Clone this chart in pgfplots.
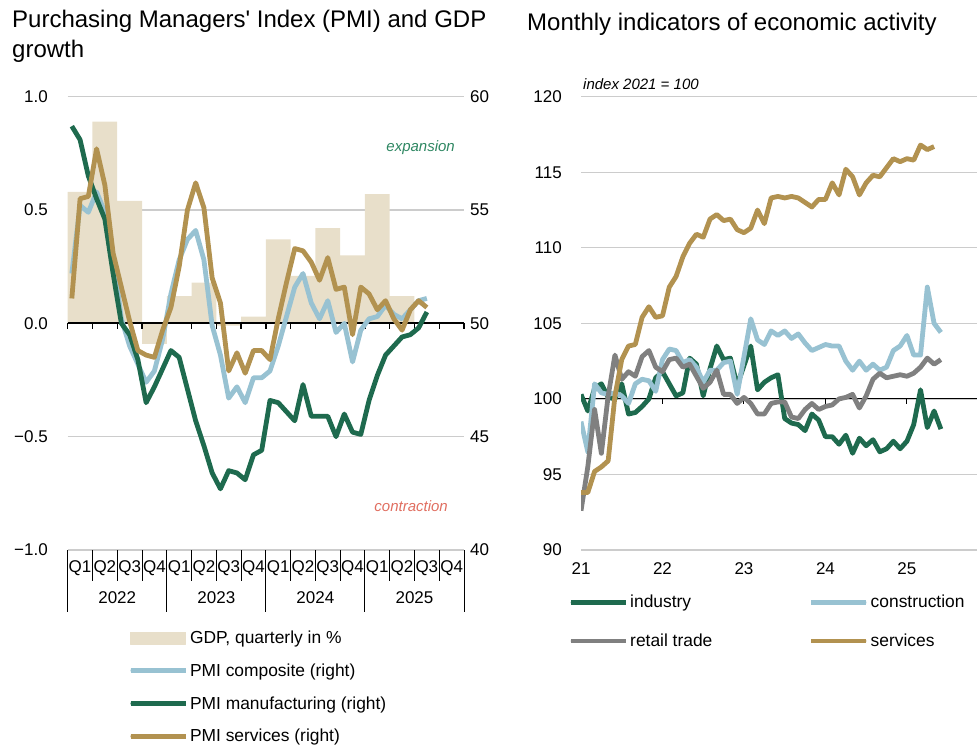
\documentclass[border=0pt]{standalone}
\usepackage{fontspec}
\setmainfont{Liberation Sans}
\usepackage{pgfplots}
\pgfplotsset{compat=1.18}
\usepackage{pgfplotstable}

\definecolor{gdpc}{RGB}{232,223,202}
\definecolor{compc}{RGB}{152,194,210}
\definecolor{manc}{RGB}{30,106,78}
\definecolor{serc}{RGB}{178,146,80}
\definecolor{retc}{RGB}{128,128,128}
\definecolor{gridc}{RGB}{204,204,204}
\definecolor{expc}{RGB}{46,135,98}
\definecolor{conc}{RGB}{224,110,96}

\newcommand\fs{\fontsize{17bp}{20bp}\selectfont}
\newcommand\fleg{\fontsize{17.4bp}{20bp}\selectfont}
\newcommand\ftitle{\fontsize{24bp}{30bp}\selectfont}
\newcommand\fital{\fontsize{15bp}{18bp}\selectfont\itshape}

\pgfplotstableread{
i comp man ser
0 52.2 58.7 51.1
1 55.2 58.1 55.5
2 54.9 56.5 55.6
3 55.8 55.5 57.7
4 54.9 54.6 56.1
5 53.0 52.2 53.1
6 50.2 50.0 51.6
7 49.0 49.5 50.1
8 48.2 48.4 48.8
9 47.4 46.5 48.6
10 47.9 47.2 48.5
11 49.3 48.0 49.7
12 51.3 48.8 50.7
13 52.8 48.5 52.5
14 53.7 47.1 55.0
15 54.1 45.7 56.2
16 52.8 44.6 55.1
17 49.9 43.4 52.0
18 48.6 42.7 50.9
19 46.7 43.5 47.9
20 47.2 43.4 48.7
21 46.5 43.1 47.8
22 47.6 44.2 48.8
23 47.6 44.4 48.8
24 47.9 46.6 48.4
25 49.0 46.5 50.2
26 50.3 46.1 51.8
27 51.6 45.7 53.3
28 52.2 47.3 53.2
29 50.9 45.9 52.7
30 50.2 45.9 51.9
31 51.0 45.9 52.9
32 49.6 45.0 51.5
33 50.0 46.0 51.6
34 48.3 45.2 49.5
35 49.7 45.1 51.6
36 50.2 46.6 51.3
37 50.3 47.7 50.6
38 50.8 48.6 51.0
39 50.4 49.0 50.2
40 50.2 49.4 49.7
41 50.6 49.5 50.6
42 51.0 49.8 51.0
43 51.1 50.5 50.7
}\leftdata

\pgfplotstableread{
m ind con ret ser
0 100.3 98.5 92.6 93.8
1 99.2 96.5 95.5 93.8
2 100.7 101.0 99.3 95.2
3 101.0 100.4 96.4 95.5
4 100.1 100.3 100.2 95.9
5 100.0 100.4 102.9 100.2
6 101.0 100.2 101.3 102.6
7 99.0 99.7 101.8 103.5
8 99.1 101.0 101.5 103.6
9 99.5 101.3 102.8 105.4
10 100.0 101.2 103.2 106.1
11 101.4 100.5 102.1 105.4
12 101.8 102.6 101.8 105.5
13 101.0 103.3 102.6 107.4
14 100.2 103.2 102.7 108.1
15 100.4 102.4 102.1 109.4
16 102.7 102.6 102.3 110.3
17 102.3 102.1 101.5 110.9
18 100.2 101.1 100.7 110.7
19 102.0 101.9 101.1 111.9
20 103.5 101.9 101.9 112.2
21 102.6 102.4 100.3 111.8
22 102.7 102.5 100.3 111.9
23 100.9 100.3 99.7 111.2
24 102.2 102.8 100.1 111.0
25 103.5 105.3 99.7 111.3
26 100.6 103.9 99.0 112.5
27 101.1 103.6 99.0 111.6
28 101.4 104.5 99.7 113.3
29 101.6 104.2 99.8 113.4
30 98.7 104.5 99.8 113.3
31 98.4 104.0 98.8 113.4
32 98.3 104.3 98.7 113.3
33 97.9 103.7 99.3 113.0
34 99.0 103.2 99.7 112.7
35 98.6 103.4 99.3 113.2
36 97.5 103.6 99.5 113.2
37 97.5 103.5 99.6 114.3
38 97.0 103.5 100.0 113.5
39 97.6 102.5 100.1 115.2
40 96.4 101.9 100.3 114.7
41 97.4 102.5 99.4 113.5
42 96.9 101.9 100.2 114.3
43 97.3 102.3 101.3 114.8
44 96.5 101.9 101.7 114.7
45 96.7 102.1 101.4 115.3
46 97.2 103.2 101.5 115.9
47 96.7 103.5 101.6 115.7
48 97.2 104.2 101.5 115.9
49 98.3 102.9 101.7 115.8
50 100.6 102.9 102.1 116.8
51 98.1 107.4 102.7 116.5
52 99.2 105.0 102.3 116.7
53 98.0 104.4 102.6 nan
}\rightdata

\begin{document}
\begin{tikzpicture}[font=\fs]
\useasboundingbox (0,0) rectangle (977bp,-745bp);

% titles
\node[anchor=base west, inner sep=0pt, font=\ftitle] at (12bp,-27.5bp) {Purchasing Managers\textquotesingle\ Index (PMI) and GDP};
\node[anchor=base west, inner sep=0pt, font=\ftitle] at (12bp,-57.5bp) {growth};
\node[anchor=base west, inner sep=0pt, font=\ftitle] at (527bp,-30bp) {Monthly indicators of economic activity};

% ---------- left: GDP bars ----------
\begin{axis}[
  at={(67.7bp,-550bp)}, anchor=south west, scale only axis,
  width=396.3bp, height=453.3bp,
  xmin=0, xmax=48, ymin=-1, ymax=1,
  clip=false,
  axis x line*=bottom, axis y line*=left, axis line style={draw=none},
  tick style={draw=none}, major tick length=0pt,
  ytick={-1,-0.5,0,0.5,1}, yticklabels={−1.0,−0.5,0.0,0.5,1.0},
  ymajorgrids, grid style={gridc, line width=1.3bp},
  xtick={1.5,4.5,...,46.5},
  xticklabels={Q1,Q2,Q3,Q4,Q1,Q2,Q3,Q4,Q1,Q2,Q3,Q4,Q1,Q2,Q3,Q4},
  tick label style={font=\fs},
  xticklabel style={anchor=base, inner sep=0pt, yshift=-22.8bp},
  yticklabel style={anchor=east, inner sep=0pt, xshift=-19.7bp},
]
\addplot[ybar, bar width=24.77bp, fill=gdpc, draw=none] coordinates {
 (1.5,0.58) (4.5,0.89) (7.5,0.54) (10.5,-0.09)
 (13.5,0.12) (16.5,0.18) (19.5,-0.01) (22.5,0.03)
 (25.5,0.37) (28.5,0.21) (31.5,0.42) (34.5,0.30)
 (37.5,0.57) (40.5,0.12)};
\draw[black, line width=2bp] (axis cs:0,0) -- (axis cs:48,0);
\pgfplotsinvokeforeach{0,3,6,9,12,15,18,21,24,27,30,33,36,39,42,45,48}{
  \draw[black, line width=1.3bp] (axis cs:#1,0) -- (axis cs:#1,-0.0251);
  \draw[black, line width=0.9bp] (axis cs:#1,-1) -- (axis cs:#1,-1.1368);
}
\pgfplotsinvokeforeach{0,12,24,36,48}{
  \draw[black, line width=0.9bp] (axis cs:#1,-1) -- (axis cs:#1,-1.2735);
}
\end{axis}

% ---------- left: PMI lines (right scale) ----------
\begin{axis}[
  at={(67.7bp,-550bp)}, anchor=south west, scale only axis,
  width=396.3bp, height=453.3bp,
  xmin=0, xmax=48, ymin=40, ymax=60,
  axis x line*=bottom, axis y line*=right, axis line style={draw=none},
  tick style={draw=none}, major tick length=0pt,
  ytick={40,45,50,55,60}, yticklabels={40,45,50,55,60},
  xtick={6,18,30,42}, xticklabels={2022,2023,2024,2025},
  tick label style={font=\fs},
  xticklabel style={anchor=base, inner sep=0pt, yshift=-53.8bp},
  yticklabel style={anchor=west, inner sep=0pt, xshift=6bp},
  legend style={at={(axis description cs:0.1527,-0.1787)}, anchor=north west,
    draw=none, fill=none, inner sep=0pt, outer sep=0pt, row sep=18.6bp,
    font=\fleg, nodes={inner sep=0pt},
    /tikz/every odd column/.append style={column sep=2bp}},
  legend cell align=left,
  legend image code/.code={\draw[#1, line cap=round] (2.25bp,0bp) -- (52.75bp,0bp); \path (0bp,0bp) -- (55bp,0bp);},
  line join=round,
]
\addlegendimage{legend image code/.code={\fill[gdpc] (0bp,-5.8bp) rectangle (55bp,5.8bp);}}
\addlegendentry{GDP, quarterly in \%}
\addplot[compc, line width=4.8bp] table[x expr=\thisrow{i}+0.5, y=comp] {\leftdata};
\addlegendentry{PMI composite (right)}
\addplot[manc, line width=4.8bp] table[x expr=\thisrow{i}+0.5, y=man] {\leftdata};
\addlegendentry{PMI manufacturing (right)}
\addplot[serc, line width=4.8bp] table[x expr=\thisrow{i}+0.5, y=ser] {\leftdata};
\addlegendentry{PMI services (right)}
\end{axis}

\node[anchor=base east, inner sep=0pt, font=\fital, text=expc] at (455bp,-151.5bp) {expansion};
\node[anchor=base east, inner sep=0pt, font=\fital, text=conc] at (448bp,-511.5bp) {contraction};

% ---------- right: monthly indicators ----------
\begin{axis}[
  at={(581bp,-550bp)}, anchor=south west, scale only axis,
  width=396bp, height=453.3bp,
  xmin=0, xmax=58.32, ymin=90, ymax=120,
  axis x line*=bottom, axis y line*=left, axis line style={draw=none},
  tick style={draw=none}, major tick length=0pt,
  xtick={0,12,24,36,48}, xticklabels={21,22,23,24,25},
  ytick={90,95,...,120}, yticklabels={90,95,100,105,110,115,120},
  ymajorgrids, grid style={gridc, line width=1.3bp},
  tick label style={font=\fs},
  xticklabel style={anchor=base, inner sep=0pt, yshift=-24bp},
  yticklabel style={anchor=east, inner sep=0pt, xshift=-19bp},
  legend columns=2,
  legend style={at={(axis description cs:-0.0318,-0.1)}, anchor=north west,
    draw=none, fill=none, inner sep=0pt, outer sep=0pt, row sep=24.5bp,
    font=\fleg, nodes={inner sep=0pt},
    /tikz/every odd column/.append style={column sep=2bp},
    /tikz/every even column/.append style={column sep=96.5bp}},
  legend cell align=left,
  legend image code/.code={\draw[#1, line cap=round] (2.25bp,0bp) -- (52.75bp,0bp); \path (0bp,0bp) -- (55bp,0bp);},
  line join=round,
]
\draw[black, line width=1bp] (axis cs:0,100) -- (axis cs:58.32,100);
\pgfplotsinvokeforeach{12,24,36,48}{
  \draw[black, line width=1bp] (axis cs:#1,100) -- (axis cs:#1,99.67);
}
\addplot[manc, line width=4.8bp] table[x=m, y=ind] {\rightdata};
\addlegendentry{industry}
\addplot[compc, line width=4.8bp] table[x=m, y=con] {\rightdata};
\addlegendentry{construction}
\addplot[retc, line width=4.8bp] table[x=m, y=ret] {\rightdata};
\addlegendentry{retail trade}
\addplot[serc, line width=4.8bp] table[x=m, y=ser] {\rightdata};
\addlegendentry{services}
\end{axis}

\node[anchor=base west, inner sep=0pt, font=\fital] at (583bp,-89bp) {index 2021 = 100};

\end{tikzpicture}
\end{document}
